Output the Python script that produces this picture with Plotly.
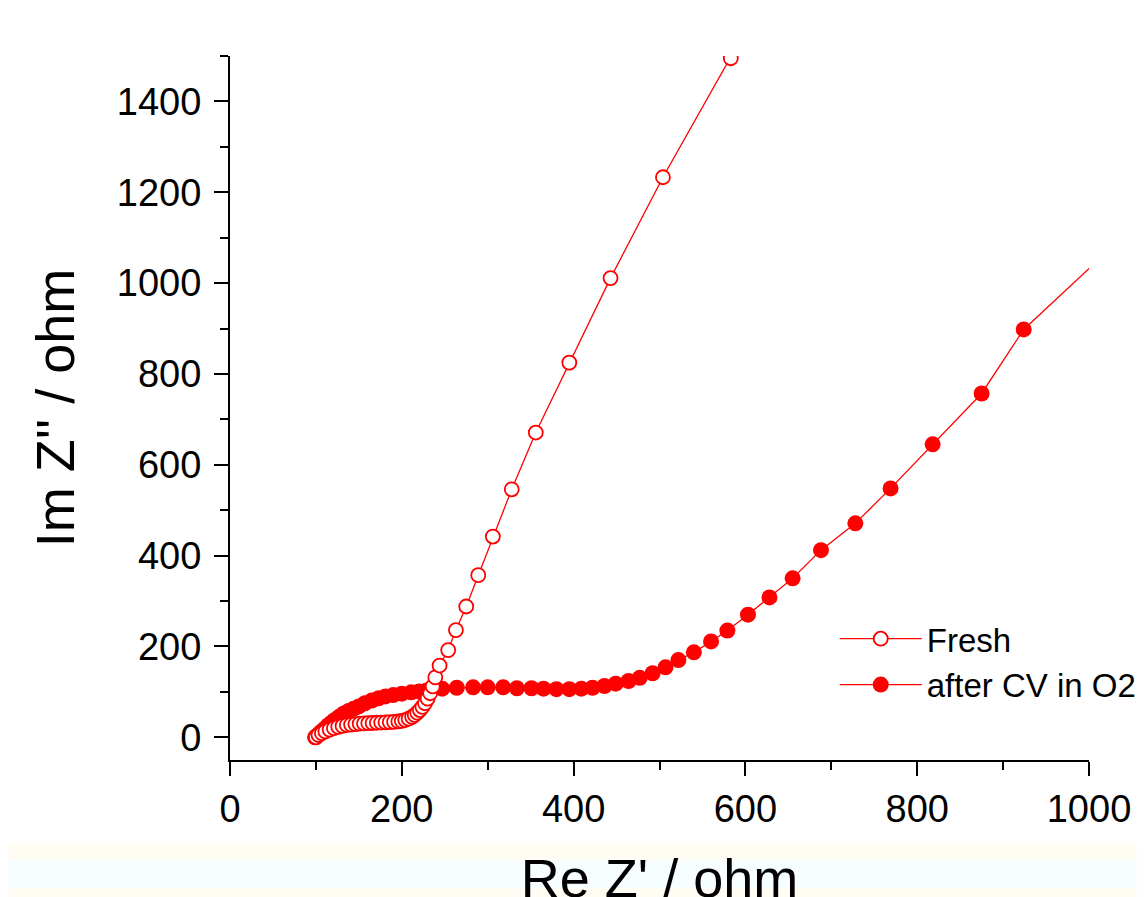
import plotly.graph_objects as go

# ---- data (ohm) ----
fresh_re = [100, 103, 107, 111, 116, 121, 126, 131, 136, 141, 146, 151, 156, 161, 166, 171,
            176, 181, 186, 191, 196, 200, 204, 208, 212, 215, 218, 221, 224, 227, 230, 233,
            236, 239, 244, 254, 263, 275, 289, 306, 328, 356, 395, 443, 504, 583, 670]
fresh_im = [0, 5, 9, 13, 17, 20, 23, 25, 27, 28, 29, 30, 30.5, 31, 31.5, 32,
            32.5, 33, 33.5, 34, 35, 36, 38, 41, 45, 49, 54, 60, 67, 75, 85, 97,
            112, 132, 158, 192, 236, 288, 357, 442, 546, 671, 825, 1011, 1233, 1495, 1790]

cv_re = [99, 101, 103, 105, 108, 111, 114, 118, 122, 127, 132, 138, 144, 150, 157, 165,
         173, 181, 190, 200, 211, 220, 229, 247, 264, 283, 300, 318, 334, 351, 365, 380,
         395, 409, 422, 436, 449, 464, 477, 492, 507, 522, 540, 560, 579, 603, 628, 655,
         688, 728, 769, 818, 875, 924, 1013]
cv_im = [0, 3, 6, 10, 15, 20, 26, 32, 38, 45, 52, 58, 63, 68, 75, 81,
         86, 90, 93, 96, 99, 101, 103, 107, 109, 110, 110, 110, 108, 108, 107, 106,
         106, 107, 109, 113, 118, 124, 131, 141, 154, 170, 187, 211, 235, 270, 308, 350,
         412, 471, 548, 645, 757, 898, 1055]

x_ticks = [0, 200, 400, 600, 800, 1000]
y_ticks = [0, 200, 400, 600, 800, 1000, 1200, 1400]

RED = "#FF0000"
FONT = "Arial, Liberation Sans, sans-serif"

fig = go.Figure()
fig.add_trace(go.Scatter(
    x=cv_re, y=cv_im, mode="lines+markers", name="after CV in O2",
    line=dict(color=RED, width=1.3),
    marker=dict(symbol="circle", size=16, color=RED, line=dict(width=0)),
    legendrank=2,
))
fig.add_trace(go.Scatter(
    x=fresh_re, y=fresh_im, mode="lines+markers", name="Fresh",
    line=dict(color=RED, width=1.3),
    marker=dict(symbol="circle", size=14, color="white", line=dict(color=RED, width=1.8)),
    legendrank=1,
))

axis_common = dict(
    showline=True, linecolor="black", linewidth=2.2, mirror=False,
    ticks="outside", ticklen=14, tickwidth=2, tickcolor="black",
    showgrid=False, zeroline=False, automargin=False,
    tickfont=dict(family=FONT, size=38, color="black"),
)

fig.update_xaxes(
    range=[0, 1000], tickvals=x_ticks,
    minor=dict(dtick=100, ticks="outside", ticklen=8, tickwidth=2, tickcolor="black", showgrid=False),
    title=dict(text="Re Z' / ohm", font=dict(family=FONT, size=54, color="black"), standoff=45),
    **axis_common,
)
fig.update_yaxes(
    range=[-50, 1500], tickvals=y_ticks,
    minor=dict(dtick=100, ticks="outside", ticklen=8, tickwidth=2, tickcolor="black", showgrid=False),
    title=dict(text="Im Z'' / ohm", font=dict(family=FONT, size=54, color="black"), standoff=25),
    ticklabelstandoff=5,
    **axis_common,
)

# faint tinted bands at the very bottom of the picture
fig.add_shape(type="rect", xref="paper", yref="paper", x0=-0.3, x1=1.1, y0=-0.118, y1=-0.142,
              fillcolor="#FFFDF3", line=dict(width=0), layer="below")
fig.add_shape(type="rect", xref="paper", yref="paper", x0=-0.3, x1=1.1, y0=-0.142, y1=-0.182,
              fillcolor="#F6FEFF", line=dict(width=0), layer="below")
fig.add_shape(type="rect", xref="paper", yref="paper", x0=-0.3, x1=1.1, y0=-0.182, y1=-0.22,
              fillcolor="#FFFDF3", line=dict(width=0), layer="below")

fig.update_layout(
    width=1137, height=900,
    margin=dict(l=222, r=56, t=48, b=148, autoexpand=False),
    paper_bgcolor="white", plot_bgcolor="white",
    showlegend=True,
    legend=dict(x=0.704, y=0.212, xanchor="left", yanchor="top",
                font=dict(family=FONT, size=33, color="black"),
                bgcolor="rgba(0,0,0,0)", itemwidth=82, tracegroupgap=0),
)

fig.write_html("out.html", post_script="document.body.style.overflow='hidden';")
